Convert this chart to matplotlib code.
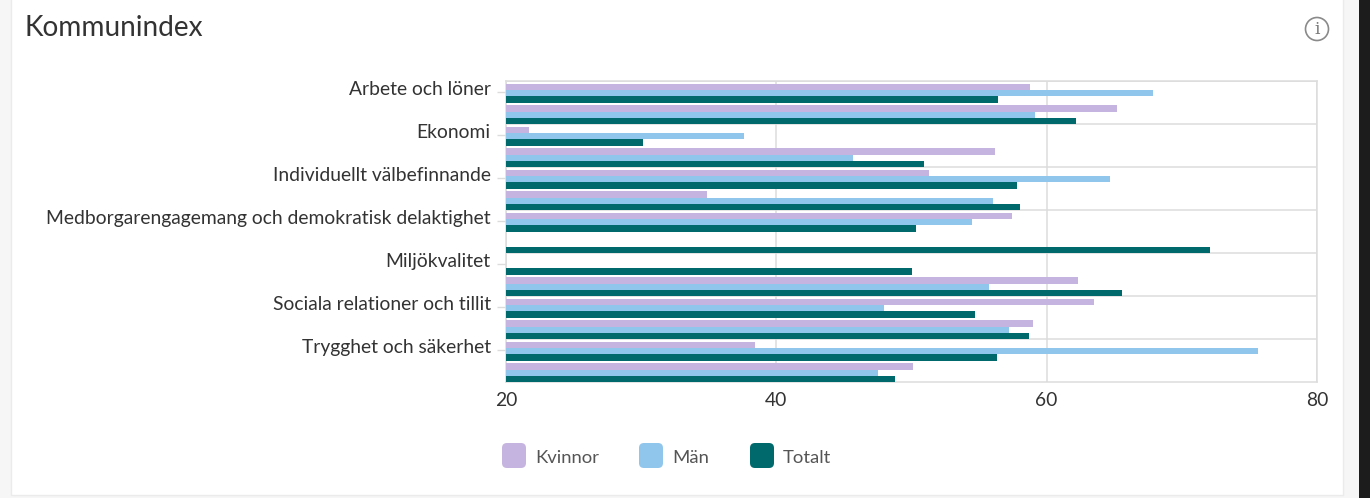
import numpy as np
import matplotlib
matplotlib.use('Agg')
import matplotlib.pyplot as plt
from matplotlib.patches import FancyBboxPatch, Rectangle, Circle
from matplotlib.transforms import ScaledTranslation

# 14 bands, only every other one has a label
categories = ['Arbete och löner', '', 'Ekonomi', '', 'Individuellt välbefinnande', '',
              'Medborgarengagemang och demokratisk delaktighet', '', 'Miljökvalitet', '',
              'Sociala relationer och tillit', '', 'Trygghet och säkerhet', '']
kvinnor = [58.8, 65.2, 21.7, 56.2, 51.3, 34.9, 57.4, np.nan, np.nan, 62.3, 63.5, 59.0, 38.4, 50.1]
man = [67.9, 59.1, 37.6, 45.7, 64.7, 56.0, 54.5, np.nan, np.nan, 55.7, 48.0, 57.2, 75.6, 47.5]
totalt = [56.4, 62.2, 30.1, 50.9, 57.8, 58.0, 50.3, 72.1, 50.0, 65.6, 54.7, 58.7, 56.3, 48.8]
xticks = [20, 40, 60, 80]
series = ['Kvinnor', 'Män', 'Totalt']
colors = ['#c5b4df', '#90c5ec', '#00696c']

W, H = 1370, 498
plt.rcParams['font.family'] = ['Lato', 'DejaVu Sans']
fig = plt.figure(figsize=(W / 100, H / 100), dpi=100, facecolor='#f6f6f6')

# overlay in pixel coordinates for the card, title, icon and legend
bg = fig.add_axes([0, 0, 1, 1])
bg.set_xlim(0, W)
bg.set_ylim(H, 0)
bg.axis('off')
bg.add_patch(Rectangle((11, -2), 1332, 497, fc='white', ec='#ebebeb', lw=1))
bg.add_patch(Rectangle((1359, 0), 11, H, fc='#1c1c1c', ec='none'))
bg.text(25, 28, 'Kommunindex', fontsize=20.2, color='#333333', va='center', ha='left')
bg.add_patch(Circle((1317, 29), 11.5, fc='white', ec='#8a8a8a', lw=1.2))
bg.text(1317, 29.5, 'i', fontsize=12.5, color='#777777', va='center', ha='center', family='DejaVu Serif')

leg_x = [502, 639, 750]
for x0, name, c in zip(leg_x, series, colors):
    bg.add_patch(FancyBboxPatch((x0 + 4, 447), 16, 17, boxstyle='round,pad=4,rounding_size=5', fc=c, ec='none'))
    bg.text(x0 + 33, 458, name, fontsize=13.3, color='#555555', va='center', ha='left')

ax = fig.add_axes([506 / W, 1 - 382 / H, (1317 - 506) / W, 301 / H])
ax.patch.set_alpha(0)
y = np.arange(len(categories))
h = 0.29
off = 0.07
ax.barh(y + off - h, kvinnor, h, left=0, color=colors[0], zorder=3)
ax.barh(y + off, man, h, left=0, color=colors[1], zorder=3)
ax.barh(y + off + h, totalt, h, left=0, color=colors[2], zorder=3)

ax.set_xlim(20, 80)
ax.set_ylim(13.5, -0.5)
ax.set_xticks(xticks)
ax.set_yticks(y[::2])
ax.set_yticklabels(categories[::2])
ax.set_yticks(y[::2] - 0.5, minor=True)

ax.grid(axis='x', color='#dcdcdc', lw=1.1, zorder=0)
ax.grid(axis='y', which='minor', color='#dcdcdc', lw=1.1, zorder=0)
ax.grid(axis='y', which='major', visible=False)
for s in ax.spines.values():
    s.set_color('#dcdcdc')
    s.set_linewidth(1.1)

ax.tick_params(axis='x', length=0, labelsize=13.9, labelcolor='#333333', pad=7)
ax.tick_params(axis='y', which='major', length=6.5, color='#dcdcdc', width=1, labelsize=13.9, labelcolor='#333333', pad=4.5)
ax.tick_params(axis='y', which='minor', length=0)

# labels sit a little above their ticks
shift = ScaledTranslation(0, 3.5 / 100, fig.dpi_scale_trans)
for t in ax.get_yticklabels():
    t.set_transform(t.get_transform() + shift)

fig.savefig('out.png', dpi=100, facecolor=fig.get_facecolor())
plt.close(fig)
